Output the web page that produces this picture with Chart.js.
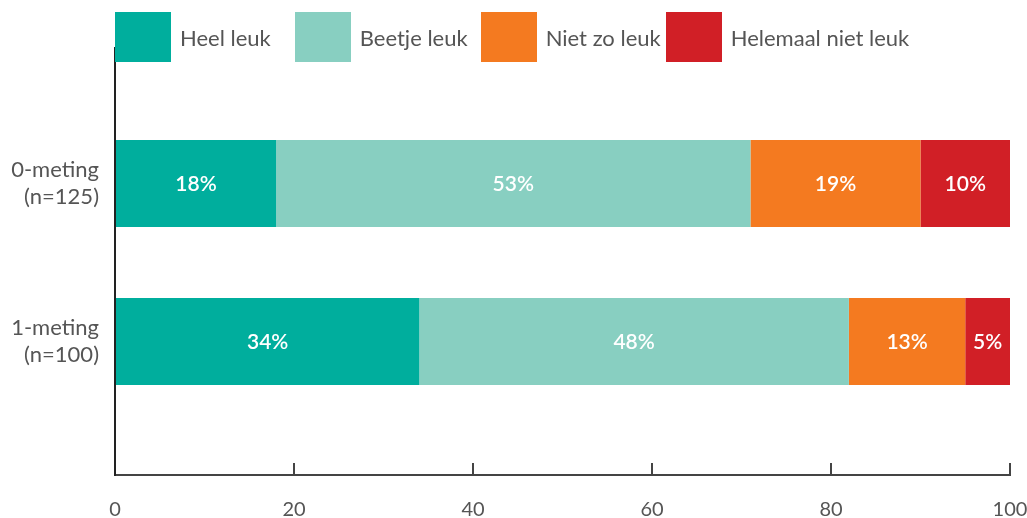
<!DOCTYPE html>
<html>
<head>
<meta charset="utf-8">
<script src="https://cdn.jsdelivr.net/npm/chart.js@4/dist/chart.umd.min.js"></script>
<style>
  html, body { margin: 0; padding: 0; background: #fff; }
  #wrap { position: relative; width: 1027px; height: 518px; }
  #legend {
    position: absolute; left: 115px; top: 12px;
    display: flex; align-items: center;
    font-family: Lato, "Open Sans", sans-serif; font-size: 22px; color: #555;
  }
  #legend .item { display: flex; align-items: center; }
  #legend .item:nth-child(1) { margin-right: 24px; }
  #legend .item:nth-child(2) { margin-right: 13px; }
  #legend .item:nth-child(3) { margin-right: 5px; }
  #legend .box { width: 56px; height: 50px; margin-right: 9px; }
</style>
</head>
<body>
<div id="wrap">
  <canvas id="chart" width="1027" height="518"></canvas>
  <div id="legend"></div>
</div>
<script>
  const categories   = [["0-meting", "(n=125)"], ["1-meting", "(n=100)"]];
  const seriesNames  = ["Heel leuk", "Beetje leuk", "Niet zo leuk", "Helemaal niet leuk"];
  const heelLeuk     = [18, 34];
  const beetjeLeuk   = [53, 48];
  const nietZoLeuk   = [19, 13];
  const helemaalNiet = [10, 5];
  const xTicks       = [0, 20, 40, 60, 80, 100];

  const colors = ["#00ae9d", "#88cfc1", "#f47a20", "#d11f26"];
  const values = [heelLeuk, beetjeLeuk, nietZoLeuk, helemaalNiet];

  Chart.defaults.font.family = "Lato, 'Open Sans', sans-serif";
  Chart.defaults.color = "#555";

  // white percentage labels in the middle of each segment
  const barLabels = {
    id: "barLabels",
    afterDatasetsDraw(chart) {
      const ctx = chart.ctx;
      ctx.save();
      ctx.font = "600 21px Lato, 'Open Sans', sans-serif";
      ctx.fillStyle = "#fff";
      ctx.textAlign = "center";
      ctx.textBaseline = "middle";
      chart.data.datasets.forEach((ds, i) => {
        chart.getDatasetMeta(i).data.forEach((bar, j) => {
          const { x, y, base } = bar.getProps(["x", "y", "base"], true);
          ctx.fillText(ds.data[j] + "%", (x + base) / 2, y + 1);
        });
      });
      ctx.restore();
    }
  };

  const chart = new Chart(document.getElementById("chart"), {
    type: "bar",
    data: {
      labels: categories.map((_, i) => i),
      datasets: seriesNames.map((name, i) => ({
        label: name,
        data: values[i],
        backgroundColor: colors[i],
        borderWidth: 0,
        barPercentage: 0.55,
        categoryPercentage: 1
      }))
    },
    options: {
      indexAxis: "y",
      responsive: false,
      animation: false,
      layout: { padding: { top: 48, right: 17, left: 0, bottom: 0 } },
      plugins: { legend: { display: false }, tooltip: { enabled: false } },
      scales: {
        x: {
          stacked: true,
          min: 0, max: 100,
          afterBuildTicks: (s) => { s.ticks = xTicks.map(v => ({ value: v })); },
          afterFit: (s) => { s.height = 43; s.paddingLeft = 0; s.paddingRight = 0; },
          border: { display: true, color: "#444", width: 2 },
          grid: { drawOnChartArea: false, drawTicks: true, tickLength: -12, color: "#444", lineWidth: 2 },
          ticks: { padding: 35, font: { size: 20 }, color: "#555" }
        },
        y: {
          type: "linear",
          stacked: true,
          reverse: true,
          offset: false,
          min: -0.858, max: 1.845,
          afterBuildTicks: (s) => { s.ticks = categories.map((_, i) => ({ value: i })); },
          afterFit: (s) => { s.width = 115; s.paddingTop = 0; s.paddingBottom = 0; },
          border: { display: true, color: "#222", width: 2 },
          grid: { drawOnChartArea: false, drawTicks: false },
          ticks: {
            padding: 16,
            font: { size: 22, lineHeight: 1.23 },
            color: "#555",
            callback: (v) => categories[v]
          }
        }
      }
    },
    plugins: [barLabels]
  });

  // html legend built from the chart datasets
  const legendEl = document.getElementById("legend");
  chart.data.datasets.forEach(ds => {
    const item = document.createElement("div");
    item.className = "item";
    item.innerHTML = `<span class="box" style="background:${ds.backgroundColor}"></span><span>${ds.label}</span>`;
    legendEl.appendChild(item);
  });
</script>
</body>
</html>
